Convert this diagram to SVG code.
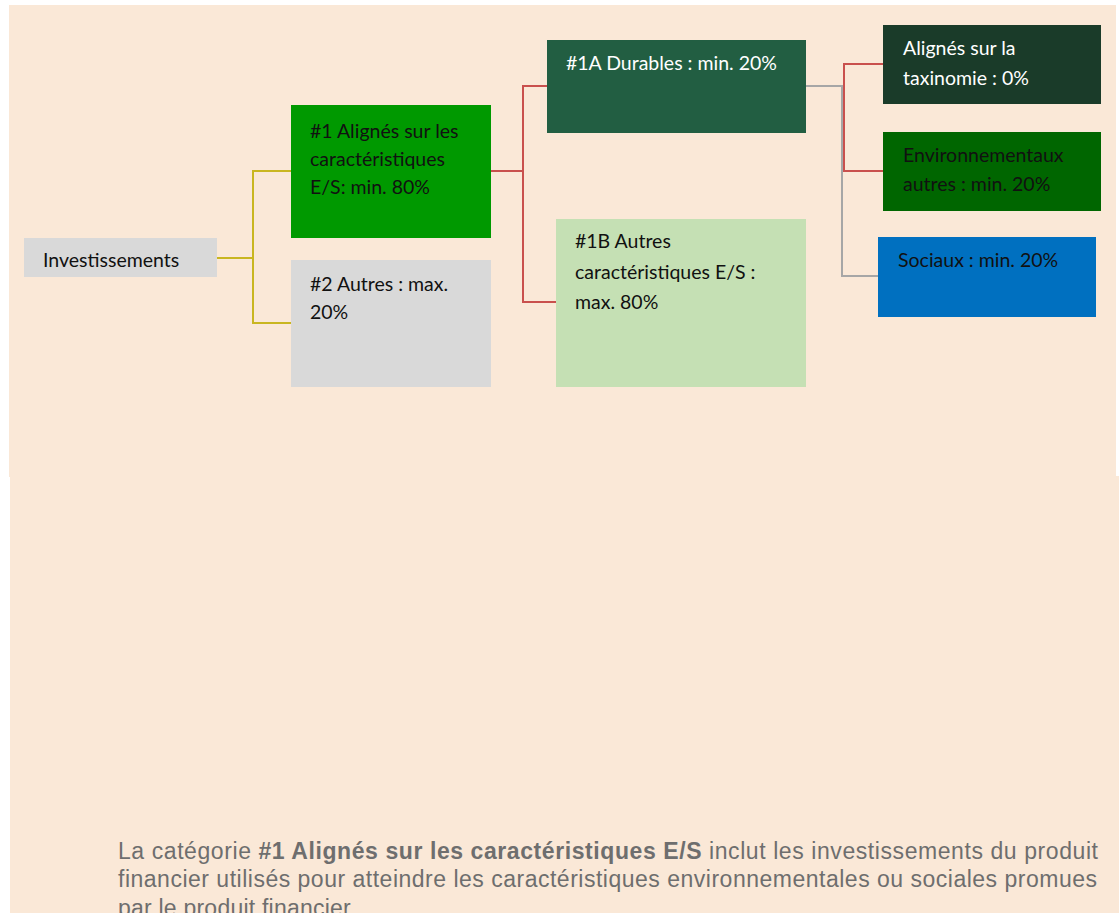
<svg xmlns="http://www.w3.org/2000/svg" width="1119" height="913" viewBox="0 0 1119 913">
<style>
.t{font-family:Lato,"Open Sans","Liberation Sans",sans-serif;font-size:19.5px}
.w{fill:#FFFFFF}
.k{fill:#111111}
.c{fill:none;stroke-width:2}
.y{stroke:#C9B620}
.r{stroke:#C9504D}
.g{stroke:#A6A6A6}
.note{font-family:"Liberation Sans",Arial,sans-serif;font-size:23px;fill:#6E6E6E}
</style>
<rect x="0" y="0" width="1119" height="913" fill="#FFFFFF"/>
<rect x="9" y="5" width="1107" height="472" fill="#FAE8D7"/>
<rect x="10" y="476" width="1109" height="437" fill="#FAE8D7"/>
<g id="connectors">
<polyline class="c y" points="217,258 253,258"/>
<polyline class="c y" points="291,171 253,171 253,323 291,323"/>
<polyline class="c r" points="491,171 523,171"/>
<polyline class="c r" points="547,86 523,86 523,302 556,302"/>
<polyline class="c g" points="806,86 842,86 842,276 878,276"/>
<polyline class="c r" points="883,64 844,64 844,171 883,171"/>
</g>
<g id="investissements">
<rect x="24" y="238" width="193" height="39" fill="#D9D9D9"/>
<text class="t k" x="43" y="267">Investissements</text>
</g>
<g id="n1">
<rect x="291" y="105" width="200" height="133" fill="#009900"/>
<text class="t k" x="310" y="138">#1 Alignés sur les</text>
<text class="t k" x="310" y="166">caractéristiques</text>
<text class="t k" x="310" y="194">E/S: min. 80%</text>
</g>
<g id="n2">
<rect x="291" y="260" width="200" height="127" fill="#D9D9D9"/>
<text class="t k" x="310" y="291">#2 Autres : max.</text>
<text class="t k" x="310" y="319">20%</text>
</g>
<g id="n1a">
<rect x="547" y="40" width="259" height="93" fill="#225E42"/>
<text class="t w" x="566" y="70">#1A Durables : min. 20%</text>
</g>
<g id="n1b">
<rect x="556" y="219" width="250" height="168" fill="#C5E0B4"/>
<text class="t k" x="575" y="248">#1B Autres</text>
<text class="t k" x="575" y="279">caractéristiques E/S :</text>
<text class="t k" x="575" y="309">max. 80%</text>
</g>
<g id="taxo">
<rect x="883" y="25" width="218" height="79" fill="#1A3B29"/>
<text class="t w" x="903" y="55">Alignés sur la</text>
<text class="t w" x="903" y="85">taxinomie : 0%</text>
</g>
<g id="env">
<rect x="883" y="132" width="218" height="79" fill="#006600"/>
<text class="t k" x="903" y="162">Environnementaux</text>
<text class="t k" x="903" y="191">autres : min. 20%</text>
</g>
<g id="soc">
<rect x="878" y="237" width="218" height="80" fill="#0070C0"/>
<text class="t k" x="898" y="267">Sociaux : min. 20%</text>
</g>
<g id="note">
<text class="note" x="118" y="859" textLength="980" lengthAdjust="spacing">La catégorie <tspan font-weight="bold">#1 Alignés sur les caractéristiques E/S</tspan> inclut les investissements du produit</text>
<text class="note" x="118" y="887" textLength="979" lengthAdjust="spacing">financier utilisés pour atteindre les caractéristiques environnementales ou sociales promues</text>
<text class="note" x="118" y="916" textLength="238" lengthAdjust="spacing">par le produit financier.</text>
</g>
</svg>
